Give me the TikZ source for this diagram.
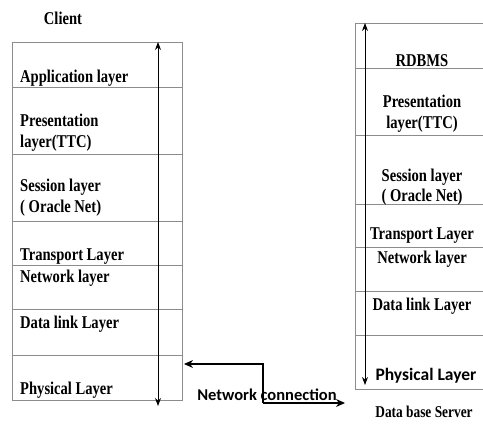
\documentclass[tikz,border=0pt]{standalone}
\usepackage{fontspec}
\newfontfamily\lser{Liberation Serif}[FakeStretch=0.81]
\newfontfamily\carl{Carlito}
\usetikzlibrary{arrows.meta}
\begin{document}
\begin{tikzpicture}[x=1pt,y=-1pt,
  grid/.style={draw=black!45, line width=0.9pt},
  lbl/.style={inner sep=0pt, font=\lser\bfseries\fontsize{18}{21}\selectfont},
  lab/.style={lbl, anchor=base west},
  sab/.style={lbl, anchor=base},
  flow/.style={line width=1pt, {Stealth[length=8pt,width=6pt]}-{Stealth[length=8pt,width=6pt]}},
  net/.style={line width=1.3pt, -{Stealth[length=9pt,width=8pt]}}]
\useasboundingbox (0,0) rectangle (483,428);
\fill[white] (0,0) rectangle (483,428);

% ---------- Client stack ----------
\node[sab] (client) at (63,25) {Client};
\draw[grid] (12,42) rectangle (182,400);
\foreach \y in {87,154,221,265,309,355} \draw[grid] (12,\y) -- (182,\y);
\node[lab] (c1) at (20,83) {Application layer};
\node[lab] (c2a) at (20,127) {Presentation};
\node[lab] (c2b) at (20,148) {layer(TTC)};
\node[lab] (c3a) at (20,192) {Session layer};
\node[lab] (c3b) at (20,213) {( Oracle Net)};
\node[lab] (c4) at (20,261) {Transport Layer};
\node[lab] (c5) at (20,283) {Network layer};
\node[lab] (c6) at (20,328) {Data link Layer};
\node[lab] (c7) at (20,394) {Physical Layer};
\coordinate (ctop) at (158,42);
\coordinate (cbot) at (158,406);
\draw[flow] (cbot) -- (ctop);

% ---------- Server stack ----------
\draw[grid] (483,23) -- (355,23) -- (355,389) -- (483,389);
\foreach \y in {68,135,204,247,291,335} \draw[grid] (355,\y) -- (483,\y);
\node[sab] (s1) at (422,67) {RDBMS};
\node[sab] (s2a) at (422,108) {Presentation};
\node[sab] (s2b) at (422,129) {layer(TTC)};
\node[sab] (s3a) at (422,182) {Session layer};
\node[sab] (s3b) at (422,202) {( Oracle Net)};
\node[sab] (s4) at (422,240) {Transport Layer};
\node[sab] (s5) at (422,264) {Network layer};
\node[sab] (s6) at (422,310) {Data link Layer};
\node[anchor=base, inner sep=0pt, font=\carl\bfseries\fontsize{17.5}{21}\selectfont] (s7) at (426,380) {Physical Layer};
\node[lbl, anchor=base, font=\lser\bfseries\fontsize{16.5}{19}\selectfont] (server) at (424,417) {Data base Server};
\coordinate (stop) at (365,23);
\coordinate (sbot) at (365,385);
\draw[flow] (sbot) -- (stop);

% ---------- Network connection ----------
\coordinate (nbend) at (263,403);
\coordinate (nleft) at (184,364);
\coordinate (nright) at (345,403);
\draw[net] (nbend) |- (nleft);
\draw[net] (nbend) -- (nright);
\node[anchor=base, inner sep=0pt, font=\carl\bfseries\fontsize{16.5}{20}\selectfont] (netlbl) at (267,400) {Network connection};
\end{tikzpicture}
\end{document}
